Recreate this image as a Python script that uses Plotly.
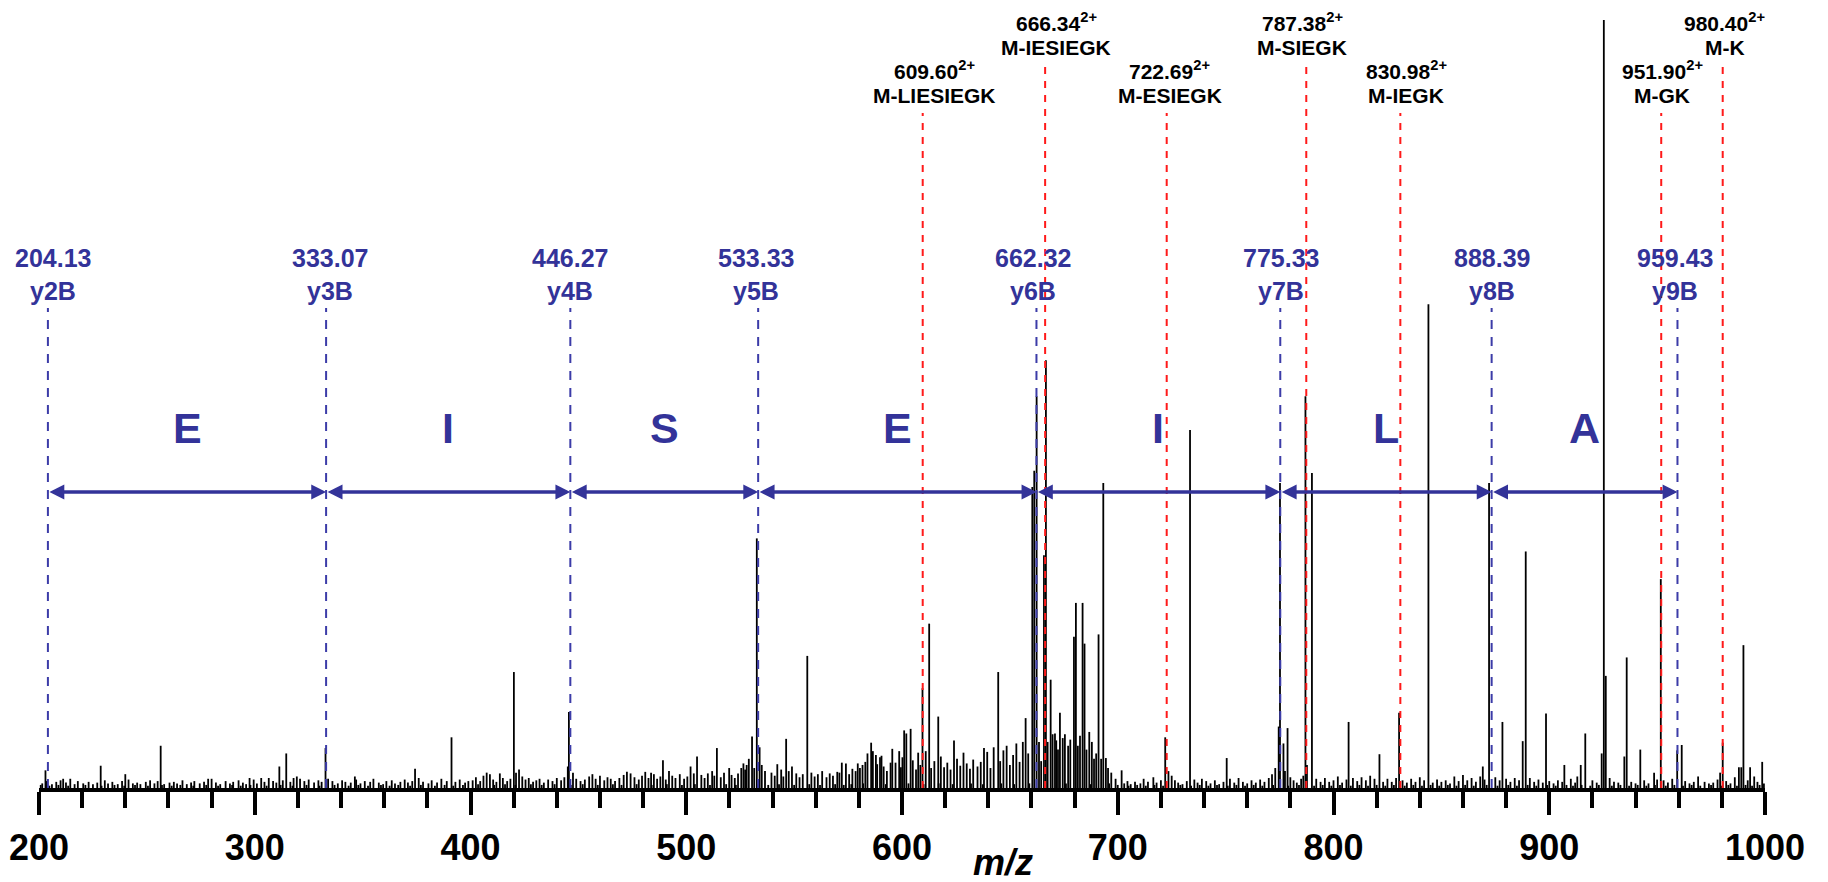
import plotly.graph_objects as go

# ---------------- data ----------------
# main fragment peaks (m/z, relative intensity %)
main_mz = [203.0, 211.2, 228.6, 240.0, 256.4, 278.4, 297.6, 303.0, 311.4, 314.6, 318.0, 332.8,
           346.4, 374.3, 391.2, 413.6, 420.1, 421.1, 445.1, 445.6, 474.2, 481.0, 483.7, 489.2,
           502.0, 505.0, 514.2, 519.9, 527.3, 530.5, 532.7, 534.0, 542.2, 546.3, 556.1, 572.1,
           574.0, 581.7, 585.7, 587.9, 589.8, 594.7, 598.7, 601.0, 602.0, 604.0, 609.5, 612.6,
           616.8, 624.1, 638.0, 644.6, 657.3, 660.4, 661.3, 662.4, 665.8, 666.7, 668.9, 670.9,
           673.2, 679.7, 680.6, 683.7, 684.6, 686.8, 691.1, 693.3, 694.5, 701.8, 722.0, 733.5,
           750.5, 774.6, 775.2, 776.8, 778.7, 787.0, 787.7, 790.0, 807.0, 821.3, 830.4, 844.0,
           869.2, 872.1, 878.3, 887.7, 889.1, 898.5, 907.0, 914.6, 916.7, 924.3, 925.3, 926.2,
           934.8, 935.9, 942.2, 948.6, 951.7, 959.3, 961.4, 969.0, 979.2, 980.4, 987.9, 990.0,
           993.1, 998.7]
main_int = [2.3, 1.2, 2.9, 1.8, 5.5, 1.2, 1.3, 1.3, 2.8, 4.5, 1.3, 5.2,
            1.5, 2.5, 6.6, 1.9, 15.1, 2.0, 2.8, 9.9, 1.9, 2.1, 2.0, 3.6,
            2.8, 4.1, 5.2, 2.6, 2.4, 6.7, 32.5, 5.3, 3.1, 6.4, 17.2, 3.3,
            3.2, 3.0, 5.9, 4.3, 4.0, 3.3, 4.8, 7.5, 7.1, 7.7, 13.0, 21.4,
            9.3, 6.2, 5.2, 15.1, 9.1, 39.2, 41.3, 51.0, 30.3, 55.7, 14.1, 7.1,
            9.8, 19.7, 24.1, 24.1, 18.8, 7.3, 20.0, 39.7, 3.9, 2.3, 6.6, 46.6,
            3.9, 8.0, 39.7, 5.8, 7.8, 51.0, 3.0, 41.0, 8.6, 4.4, 9.8, 63.0,
            2.8, 39.7, 8.6, 6.1, 30.8, 9.7, 3.0, 3.0, 7.1, 4.5, 100.0, 14.6,
            4.1, 17.0, 5.0, 2.0, 27.2, 4.9, 5.6, 1.5, 2.0, 5.9, 2.7, 18.6,
            2.7, 3.4]

# baseline noise, by region (m/z, intensity %)
noise_200_400 = [(201.5, 0.6), (203.5, 0.9), (206, 0.5), (208, 0.8), (210, 1.0), (212.5, 0.7), (214.5, 1.2),
                 (216.5, 0.5), (218, 0.9), (220.5, 0.6), (223, 0.8), (225, 0.5), (227, 0.7), (230.5, 1.0),
                 (232, 0.6), (234, 0.8), (236.5, 0.5), (238.5, 0.9), (241.5, 1.1), (243.5, 0.6), (245.5, 0.7),
                 (247, 0.5), (249.5, 0.8), (251.5, 1.0), (253.5, 0.6), (255, 0.9), (258, 0.5), (260.5, 0.7),
                 (262.5, 0.8), (264, 0.6), (266.5, 1.0), (268.5, 0.5), (270.5, 0.7), (272, 0.9), (274.5, 0.6),
                 (276.5, 0.8), (280, 1.2), (282, 0.7), (284, 0.5), (286.5, 0.9), (288.5, 0.6), (290, 0.8),
                 (292.5, 1.0), (294.5, 0.7), (296, 0.5), (299.5, 1.1), (301, 0.6), (304.5, 0.8), (306.5, 1.3),
                 (308.5, 0.9), (310, 0.7), (313, 1.0), (316.5, 0.8), (319.5, 1.5), (321, 1.2), (323, 0.9),
                 (325, 1.1), (327.5, 0.7), (329.5, 1.0), (331, 0.8), (334, 1.2), (336, 0.9), (338.5, 0.6),
                 (340.5, 1.0), (342, 0.8), (344.5, 0.7), (347, 1.1), (349, 0.6), (351, 0.9), (353.5, 0.8),
                 (355, 1.2), (357.5, 0.7), (359.5, 0.5), (361, 0.9), (363.5, 1.0), (365, 0.6), (367.5, 0.8),
                 (369.5, 1.1), (371, 0.7), (373, 0.9), (376, 1.3), (378, 0.8), (380.5, 0.6), (382, 1.0),
                 (384.5, 0.7), (386.5, 1.2), (389, 0.9), (393, 0.8), (395, 1.1), (397.5, 0.7), (399, 0.9)]
noise_400_580 = [(401, 1.0), (402.5, 1.4), (404.5, 0.9), (406, 1.6), (407.5, 2.0), (409, 1.8), (410.5, 1.1),
                 (412, 0.8), (415, 1.3), (417, 0.9), (418.5, 1.2), (422.5, 2.4), (424, 1.5), (425.5, 1.1),
                 (427, 1.3), (429, 0.8), (430.5, 1.0), (432, 1.2), (434, 0.7), (436, 1.1), (438, 0.9),
                 (440, 1.3), (442, 1.0), (443.5, 1.4), (447.5, 2.0), (449, 1.2), (451, 0.9), (453, 1.1),
                 (455, 1.5), (456.5, 1.8), (458, 1.2), (460, 1.6), (462, 1.0), (463.5, 1.4), (465, 1.2),
                 (467, 0.9), (469, 1.3), (471, 1.7), (472.5, 2.1), (476, 1.4), (478, 1.1), (479.5, 1.6),
                 (482.5, 1.3), (485, 1.8), (486.5, 1.2), (488, 1.5), (490.5, 1.1), (492, 2.2), (493.5, 1.6),
                 (495, 1.3), (497, 1.8), (499, 1.2), (500.5, 1.5), (503.5, 1.9), (507, 1.7), (508.5, 1.3),
                 (510, 1.9), (512, 2.2), (513, 1.6), (516, 1.4), (517.5, 2.0), (521, 1.7), (522.5, 1.3),
                 (524, 1.9), (525.5, 2.6), (526.5, 3.2), (528, 3.0), (529, 3.8), (531.5, 2.6), (535, 3.0),
                 (536.5, 2.2), (539.5, 2.0), (541, 1.6), (544, 2.4), (545, 1.5), (547.5, 2.2), (549, 2.8),
                 (551, 1.9), (552.5, 1.4), (554, 1.8), (558, 2.0), (559.5, 1.5), (561, 1.8), (563, 2.2),
                 (565, 1.4), (566.5, 1.9), (568, 1.6), (570, 2.1), (571, 2.0), (575.5, 1.8), (577, 2.5),
                 (578.5, 2.2), (579.5, 3.2)]
noise_580_700 = [(580.5, 2.6), (583, 3.4), (584, 4.5), (586.5, 4.8), (588.5, 3.1), (590.5, 4.2), (591.5, 2.8),
                 (593, 2.2), (595.5, 5.1), (597, 3.3), (599.5, 2.7), (600.2, 4.0), (605, 3.6), (606.5, 2.4),
                 (607.5, 4.6), (608.5, 3.0), (611, 4.8), (613.5, 2.6), (615, 3.5), (618, 4.1), (619.5, 2.7),
                 (621, 3.3), (622.5, 2.4), (625.5, 3.8), (627, 2.9), (628.5, 4.6), (630, 3.2), (631.5, 2.5),
                 (633, 3.7), (635, 2.8), (636.5, 3.4), (639.5, 4.7), (641, 2.6), (642.5, 5.3), (645.5, 3.5),
                 (647, 4.9), (648.5, 5.5), (650, 3.0), (651.5, 4.3), (653, 5.8), (654.5, 3.4), (656, 6.0),
                 (658.5, 4.5), (663.5, 6.0), (664.5, 3.5), (667.5, 6.0), (669.8, 7.0), (671.5, 6.2),
                 (672.3, 5.0), (674.5, 6.5), (675.5, 7.0), (677, 5.5), (678, 6.3), (681.5, 5.5),
                 (682.5, 6.8), (685.5, 5.0), (688, 6.0), (689, 3.8), (690, 4.5), (692.3, 3.8), (695.5, 2.6),
                 (697, 2.0), (699, 1.2)]
noise_700_1000 = [(703, 0.6), (704.5, 0.9), (706, 0.5), (708, 0.8), (710.5, 0.6), (712, 1.2), (714, 0.8),
                  (716.5, 1.4), (718, 0.7), (720, 1.0), (723.5, 2.2), (725, 1.6), (726.5, 1.0), (728, 0.7),
                  (730, 0.5), (732, 0.9), (735.5, 1.1), (737, 0.7), (739, 1.2), (741, 0.9), (743, 0.6),
                  (745, 1.0), (747, 0.5), (749, 0.8), (752, 1.2), (754, 0.7), (756, 1.3), (758, 0.8),
                  (760, 0.6), (762, 1.0), (764, 0.7), (766, 1.1), (768, 0.8), (770, 1.3), (771.5, 1.8),
                  (773, 2.6), (777.5, 2.2), (780, 1.4), (781.5, 1.0), (783, 0.7), (785, 1.2), (786, 1.6),
                  (792, 1.2), (794, 0.8), (796, 1.3), (798, 0.8), (800, 1.0), (802, 1.5), (804, 0.7),
                  (806, 1.1), (809, 1.3), (811, 0.9), (813, 1.4), (815, 1.0), (817, 1.6), (819, 1.2),
                  (823, 0.8), (825, 1.2), (827, 0.8), (829, 1.3), (832, 1.0), (834, 0.7), (836, 1.2),
                  (838, 0.8), (840, 1.4), (842, 1.0), (846, 0.7), (848, 1.1), (850, 0.8), (852, 1.0),
                  (854, 0.6), (856, 1.5), (858, 0.9), (860, 1.7), (862, 1.0), (864, 1.3), (866, 0.8),
                  (868, 1.5), (870, 1.1), (875, 1.4), (877, 1.0), (880, 1.2), (882, 0.8), (884, 1.3),
                  (886, 1.0), (891, 1.3), (893, 0.8), (895, 1.1), (897, 0.7), (900, 0.9), (902, 0.6),
                  (904, 1.0), (906, 0.8), (910, 1.2), (912, 0.7), (913, 1.5), (920, 1.0), (922, 0.7),
                  (928, 1.3), (930, 0.8), (932, 0.7), (938, 0.8), (940, 0.6), (944, 1.0), (946, 0.6),
                  (950, 1.1), (953, 1.0), (955, 0.7), (957, 1.2), (963, 0.9), (965, 0.6), (967, 0.8),
                  (972, 0.8), (974, 0.6), (976, 0.7), (978, 1.1), (982, 0.9), (984, 0.6), (986, 1.4),
                  (989, 2.7), (992, 1.0), (995, 1.5), (996.5, 0.8), (999.5, 0.6)]
# low-level floor between the noise spikes
noise_floor = [(200.8, 0.4), (204.8, 0.3), (209, 0.4), (213.5, 0.3), (221.5, 0.4), (229, 0.3), (235, 0.4),
               (239.5, 0.3), (244.5, 0.4), (250.5, 0.3), (257, 0.4), (261.5, 0.3), (265.5, 0.4), (271.5, 0.3),
               (277.5, 0.4), (283, 0.3), (289.5, 0.4), (293.5, 0.3), (298, 0.4), (305.5, 0.3), (312, 0.4),
               (317.5, 0.3), (324, 0.4), (330, 0.3), (337, 0.4), (343.5, 0.3), (348, 0.4), (352.5, 0.3),
               (358.5, 0.4), (362.5, 0.3), (366.5, 0.4), (372, 0.3), (377, 0.4), (383.5, 0.3), (388, 0.4),
               (392, 0.3), (396.5, 0.4), (403.5, 0.5), (411, 0.4), (416, 0.5), (420.8, 0.4), (428, 0.5),
               (433, 0.4), (439, 0.5), (446.5, 0.4), (452, 0.5), (459, 0.4), (466, 0.5), (470, 0.4),
               (477, 0.5), (484, 0.4), (491, 0.5), (498, 0.4), (504, 0.5), (511, 0.4), (518.5, 0.5),
               (523, 0.4), (533.5, 0.5), (538, 0.4), (543, 0.5), (550, 0.4), (557, 0.5), (562, 0.4),
               (569, 0.5), (573, 0.4), (576.5, 0.5), (582, 0.6), (592.5, 0.5), (603, 0.6), (610, 0.5),
               (617, 0.6), (623.5, 0.5), (632, 0.6), (637.5, 0.5), (646, 0.6), (652, 0.5), (659, 0.6),
               (676, 0.6), (687.5, 0.5), (696, 0.6), (700, 0.4), (705, 0.3), (709, 0.4), (713, 0.3),
               (717, 0.4), (721, 0.3), (729, 0.4), (734, 0.3), (738, 0.4), (742, 0.3), (746, 0.4),
               (751, 0.3), (755, 0.4), (759, 0.3), (763, 0.4), (767, 0.3), (772, 0.4), (779, 0.3),
               (784, 0.4), (791, 0.3), (795, 0.4), (799, 0.3), (803, 0.4), (808, 0.3), (812, 0.4),
               (816, 0.3), (820, 0.4), (824, 0.3), (828, 0.4), (833, 0.3), (837, 0.4), (841, 0.3),
               (845, 0.4), (849, 0.3), (853, 0.4), (857, 0.3), (861, 0.4), (865, 0.3), (871, 0.4),
               (876, 0.3), (881, 0.4), (885, 0.3), (890, 0.4), (894, 0.3), (899, 0.4), (903, 0.3),
               (908, 0.4), (911, 0.3), (915, 0.4), (919, 0.3), (923, 0.4), (929, 0.3), (933, 0.4),
               (937, 0.3), (941, 0.4), (945, 0.3), (949, 0.4), (954, 0.3), (958, 0.4), (962, 0.3),
               (966, 0.4), (970, 0.3), (975, 0.4), (979.8, 0.3), (983, 0.4), (987, 0.3), (991, 0.4),
               (994, 0.3), (997.5, 0.4)]

# y-ion (B) ladder
y_ion_mz = [204.13, 333.07, 446.27, 533.33, 662.32, 775.33, 873.3, 959.43]
y_ion_values = ["204.13", "333.07", "446.27", "533.33", "662.32", "775.33", "888.39", "959.43"]
y_ion_names = ["y2B", "y3B", "y4B", "y5B", "y6B", "y7B", "y8B", "y9B"]
residues = ["E", "I", "S", "E", "I", "L", "A"]

# doubly charged neutral-loss ions
loss_mz = [609.60, 666.34, 722.69, 787.38, 830.98, 951.90, 980.40]
loss_values = ["609.60", "666.34", "722.69", "787.38", "830.98", "951.90", "980.40"]
loss_names = ["M-LIESIEGK", "M-IESIEGK", "M-ESIEGK", "M-SIEGK", "M-IEGK", "M-GK", "M-K"]

# x-axis
x_range = [200, 1000]

# ---------------- layout helpers ----------------
W, H = 1828, 882
L_PX, R_PX = 39.3, 1765.0
BASE_PX = 788.0
TOP_PEAK_PX = 20.0
YMAX = 100.0 * BASE_PX / (BASE_PX - TOP_PEAK_PX)


def yv(px):
    return (BASE_PX - px) * YMAX / BASE_PX


FONT = "Liberation Sans, Arial, Helvetica, sans-serif"
BLUE = "#333399"
BLUE_DASH = "#3c3ca8"
RED = "#ff1a1a"

loss_row = [2, 1, 2, 1, 2, 2, 1]
loss_shift = [12, 11, 3, -4, 6, 1, 2]
y_label_shift = [5, 4, 0, -2, -3, 1, 0, -2]

# ---------------- peaks ----------------
xs, ys = [], []
for region in (noise_floor, noise_200_400, noise_400_580, noise_580_700, noise_700_1000):
    for m, i in region:
        xs += [m, m, None]
        ys += [0, i, None]
for m, i in zip(main_mz, main_int):
    xs += [m, m, None]
    ys += [0, i, None]

fig = go.Figure()
fig.add_trace(go.Scatter(x=xs, y=ys, mode="lines", line=dict(color="black", width=1.8),
                         hoverinfo="skip", showlegend=False))

shapes = []
annotations = []

# blue y-ion lines and labels
for m, val, name, sh in zip(y_ion_mz, y_ion_values, y_ion_names, y_label_shift):
    shapes.append(dict(type="line", xref="x", yref="y", x0=m, x1=m, y0=0, y1=yv(308),
                       line=dict(color=BLUE_DASH, width=2, dash="9px,8px"), layer="above"))
    annotations.append(dict(x=m, y=yv(257.5), xref="x", yref="y", text=val, showarrow=False,
                            xshift=sh, yanchor="middle",
                            font=dict(family=FONT, size=25, color=BLUE, weight="bold")))
    annotations.append(dict(x=m, y=yv(290.5), xref="x", yref="y", text=name, showarrow=False,
                            xshift=sh, yanchor="middle",
                            font=dict(family=FONT, size=25, color=BLUE, weight="bold")))

# residue arrows and letters
for a, b, r in zip(y_ion_mz[:-1], y_ion_mz[1:], residues):
    annotations.append(dict(x=b, y=yv(492), ax=a, ay=yv(492), xref="x", yref="y",
                            axref="x", ayref="y", text="", showarrow=True,
                            arrowhead=2, startarrowhead=2, arrowside="end+start",
                            arrowsize=0.85, startarrowsize=0.85, arrowwidth=3.5,
                            arrowcolor=BLUE, standoff=0, startstandoff=0))
    annotations.append(dict(x=(a + b) / 2, y=yv(427.5), xref="x", yref="y", text=r,
                            showarrow=False, yanchor="middle",
                            font=dict(family=FONT, size=43, color=BLUE, weight="bold")))

# red loss lines and labels
for m, val, name, row, sh in zip(loss_mz, loss_values, loss_names, loss_row, loss_shift):
    top = 62 if row == 1 else 113
    num_c = 22 if row == 1 else 69.5
    name_c = 47.5 if row == 1 else 95.5
    shapes.append(dict(type="line", xref="x", yref="y", x0=m, x1=m, y0=0, y1=yv(top),
                       line=dict(color=RED, width=2, dash="7px,7px"), layer="above"))
    annotations.append(dict(x=m, y=yv(num_c), xref="x", yref="y",
                            text=val + "<sup>2+</sup>", showarrow=False, xshift=sh,
                            yanchor="middle",
                            font=dict(family=FONT, size=21, color="black", weight="bold")))
    annotations.append(dict(x=m, y=yv(name_c), xref="x", yref="y", text=name,
                            showarrow=False, xshift=sh, yanchor="middle",
                            font=dict(family=FONT, size=21, color="black", weight="bold")))

# axis title
annotations.append(dict(x=(1003.6 - L_PX) / (R_PX - L_PX), y=0, xref="paper", yref="paper",
                        yshift=-(862 - BASE_PX), text="<i>m/z</i>", showarrow=False,
                        yanchor="middle",
                        font=dict(family=FONT, size=36, color="black", weight="bold")))

fig.update_layout(
    width=W, height=H,
    margin=dict(l=L_PX, r=W - R_PX, t=0, b=H - BASE_PX, pad=0),
    paper_bgcolor="white", plot_bgcolor="white",
    shapes=shapes, annotations=annotations, showlegend=False,
    xaxis=dict(range=x_range, tick0=200, dtick=100, ticks="outside", ticklen=23,
               tickwidth=4, tickcolor="black", showline=True, linewidth=4, linecolor="black",
               showgrid=False, zeroline=False, ticklabelstandoff=2,
               tickfont=dict(family=FONT, size=36, color="black", weight="bold"),
               minor=dict(tick0=200, dtick=20, ticks="outside", ticklen=16, tickwidth=3.5,
                          tickcolor="black", showgrid=False)),
    yaxis=dict(range=[0, YMAX], visible=False, showgrid=False, zeroline=False),
)

fig.write_html("out.html", config={"displayModeBar": False},
               post_script="document.body.style.margin='0';document.body.style.overflow='hidden';")
